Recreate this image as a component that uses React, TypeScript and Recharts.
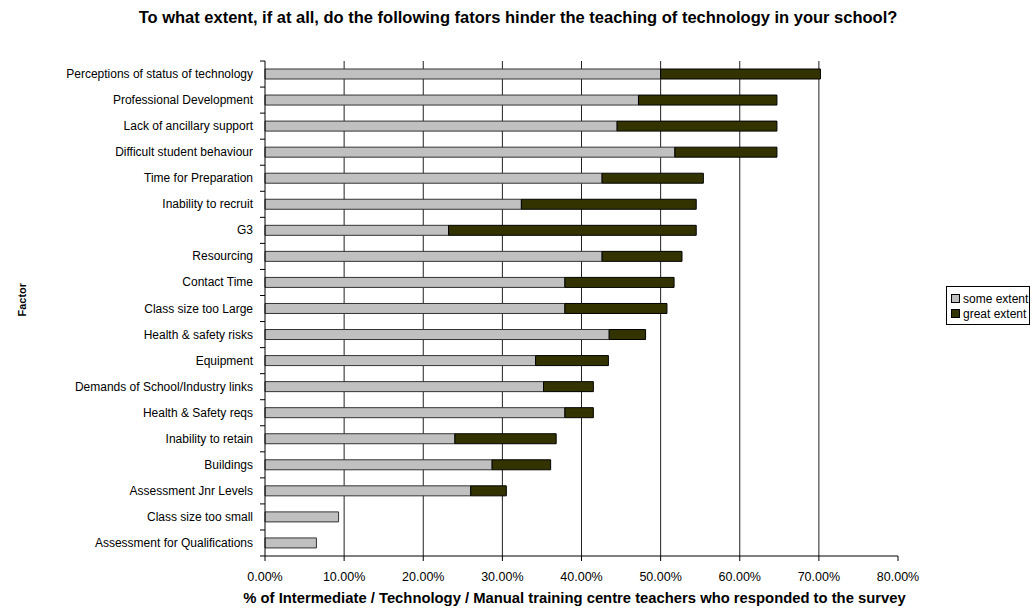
import React from 'react';
import { BarChart, Bar, XAxis, YAxis, CartesianGrid } from 'recharts';

// factors, top to bottom
const factors = [
    'Perceptions of status of technology',
    'Professional Development',
    'Lack of ancillary support',
    'Difficult student behaviour',
    'Time for Preparation',
    'Inability to recruit',
    'G3',
    'Resourcing',
    'Contact Time',
    'Class size too Large',
    'Health & safety risks',
    'Equipment',
    'Demands of School/Industry links',
    'Health & Safety reqs',
    'Inability to retain',
    'Buildings',
    'Assessment Jnr Levels',
    'Class size too small',
    'Assessment for Qualifications',
];

const someExtent = [50.0, 47.2, 44.5, 51.8, 42.6, 32.4, 23.2, 42.6, 37.9, 37.9, 43.5, 34.2, 35.2, 37.9, 24.0, 28.7, 26.0, 9.3, 6.5];
const greatExtent = [20.2, 17.5, 20.2, 12.9, 12.8, 22.1, 31.3, 10.1, 13.8, 12.9, 4.6, 9.2, 6.3, 3.6, 12.8, 7.4, 4.5, 0, 0];

const xTicks = [0, 10, 20, 30, 40, 50, 60, 70, 80];
const gridTicks = [10, 20, 30, 40, 50, 60, 70];

const SOME_COLOR = '#C0C0C0';
const GREAT_COLOR = '#333300';
const series = [
    { key: 'some', name: 'some extent', color: SOME_COLOR },
    { key: 'great', name: 'great extent', color: GREAT_COLOR },
];

const data = factors.map((name, i) => ({ name, some: someExtent[i], great: greatExtent[i] }));

const FONT = '"Liberation Sans", Arial, sans-serif';

// y tick: label plus a short tick mark on the band boundary (Excel style)
const FactorTick = (props: any) => {
    const { x, y, payload, index } = props;
    const ax = x + 12;
    return (
        <g>
            <text x={x} y={y} dy={4} textAnchor="end" fontSize={12} fill="#000" fontFamily={FONT}>{payload.value}</text>
            <line x1={ax - 5} x2={ax} y1={y - 13} y2={y - 13} stroke="#000" />
            {index === factors.length - 1 && <line x1={ax - 5} x2={ax} y1={y + 13} y2={y + 13} stroke="#000" />}
        </g>
    );
};

export default function App() {
    return (
        <div style={{ position: 'absolute', left: 0, top: 0, width: 1036, height: 612, background: '#fff', fontFamily: FONT }}>
            <div style={{ position: 'absolute', top: 8, left: 0, width: 1036, textAlign: 'center', fontWeight: 'bold', fontSize: 16.5 }}>
                To what extent, if at all, do the following fators hinder the teaching of technology in your school?
            </div>
            <BarChart
                width={1036}
                height={612}
                data={data}
                layout="vertical"
                margin={{ top: 61, right: 138, left: 0, bottom: 36 }}
                barSize={10}
            >
                <CartesianGrid
                    horizontal={false}
                    stroke="#222"
                    verticalCoordinatesGenerator={({ offset }: any) =>
                        gridTicks.map(v => offset.left + (offset.width * v) / 80)
                    }
                />
                <XAxis
                    type="number"
                    domain={[0, 80]}
                    ticks={xTicks}
                    tickFormatter={(v: number) => v.toFixed(2) + '%'}
                    stroke="#000"
                    tickSize={5}
                    tickMargin={11}
                    tick={{ fontSize: 12.5, fill: '#000', fontFamily: FONT }}
                    height={20}
                    label={{ value: '% of Intermediate / Technology / Manual training centre teachers who responded to the survey', position: 'insideBottom', offset: -27, dx: -7, fontSize: 14.8, fontWeight: 'bold', fill: '#000', fontFamily: FONT }}
                />
                <YAxis
                    type="category"
                    dataKey="name"
                    width={265}
                    stroke="#000"
                    tickLine={false}
                    tickSize={5}
                    tickMargin={7}
                    interval={0}
                    tick={<FactorTick />}
                    label={{ value: 'Factor', angle: -90, position: 'insideLeft', offset: 22, dy: 8, fontSize: 11, fontWeight: 'bold', fill: '#000', fontFamily: FONT }}
                />
                <Bar dataKey="some" name="some extent" stackId="a" fill={SOME_COLOR} stroke="#333" isAnimationActive={false} />
                <Bar dataKey="great" name="great extent" stackId="a" fill={GREAT_COLOR} stroke="#000" isAnimationActive={false} />
            </BarChart>
            {/* legend box at the right, Excel style */}
            <div style={{ position: 'absolute', left: 946, top: 286, width: 84, border: '1px solid #000', background: '#fff', padding: '4px 0 3px 4px', fontSize: 12, whiteSpace: 'nowrap', boxSizing: 'border-box' }}>
                {series.map(s => (
                    <div key={s.key} style={{ display: 'flex', alignItems: 'center', height: 15 }}>
                        <div style={{ width: 7, height: 7, background: s.color, border: '1px solid #000', marginRight: 3 }} />
                        <span>{s.name}</span>
                    </div>
                ))}
            </div>
        </div>
    );
}
